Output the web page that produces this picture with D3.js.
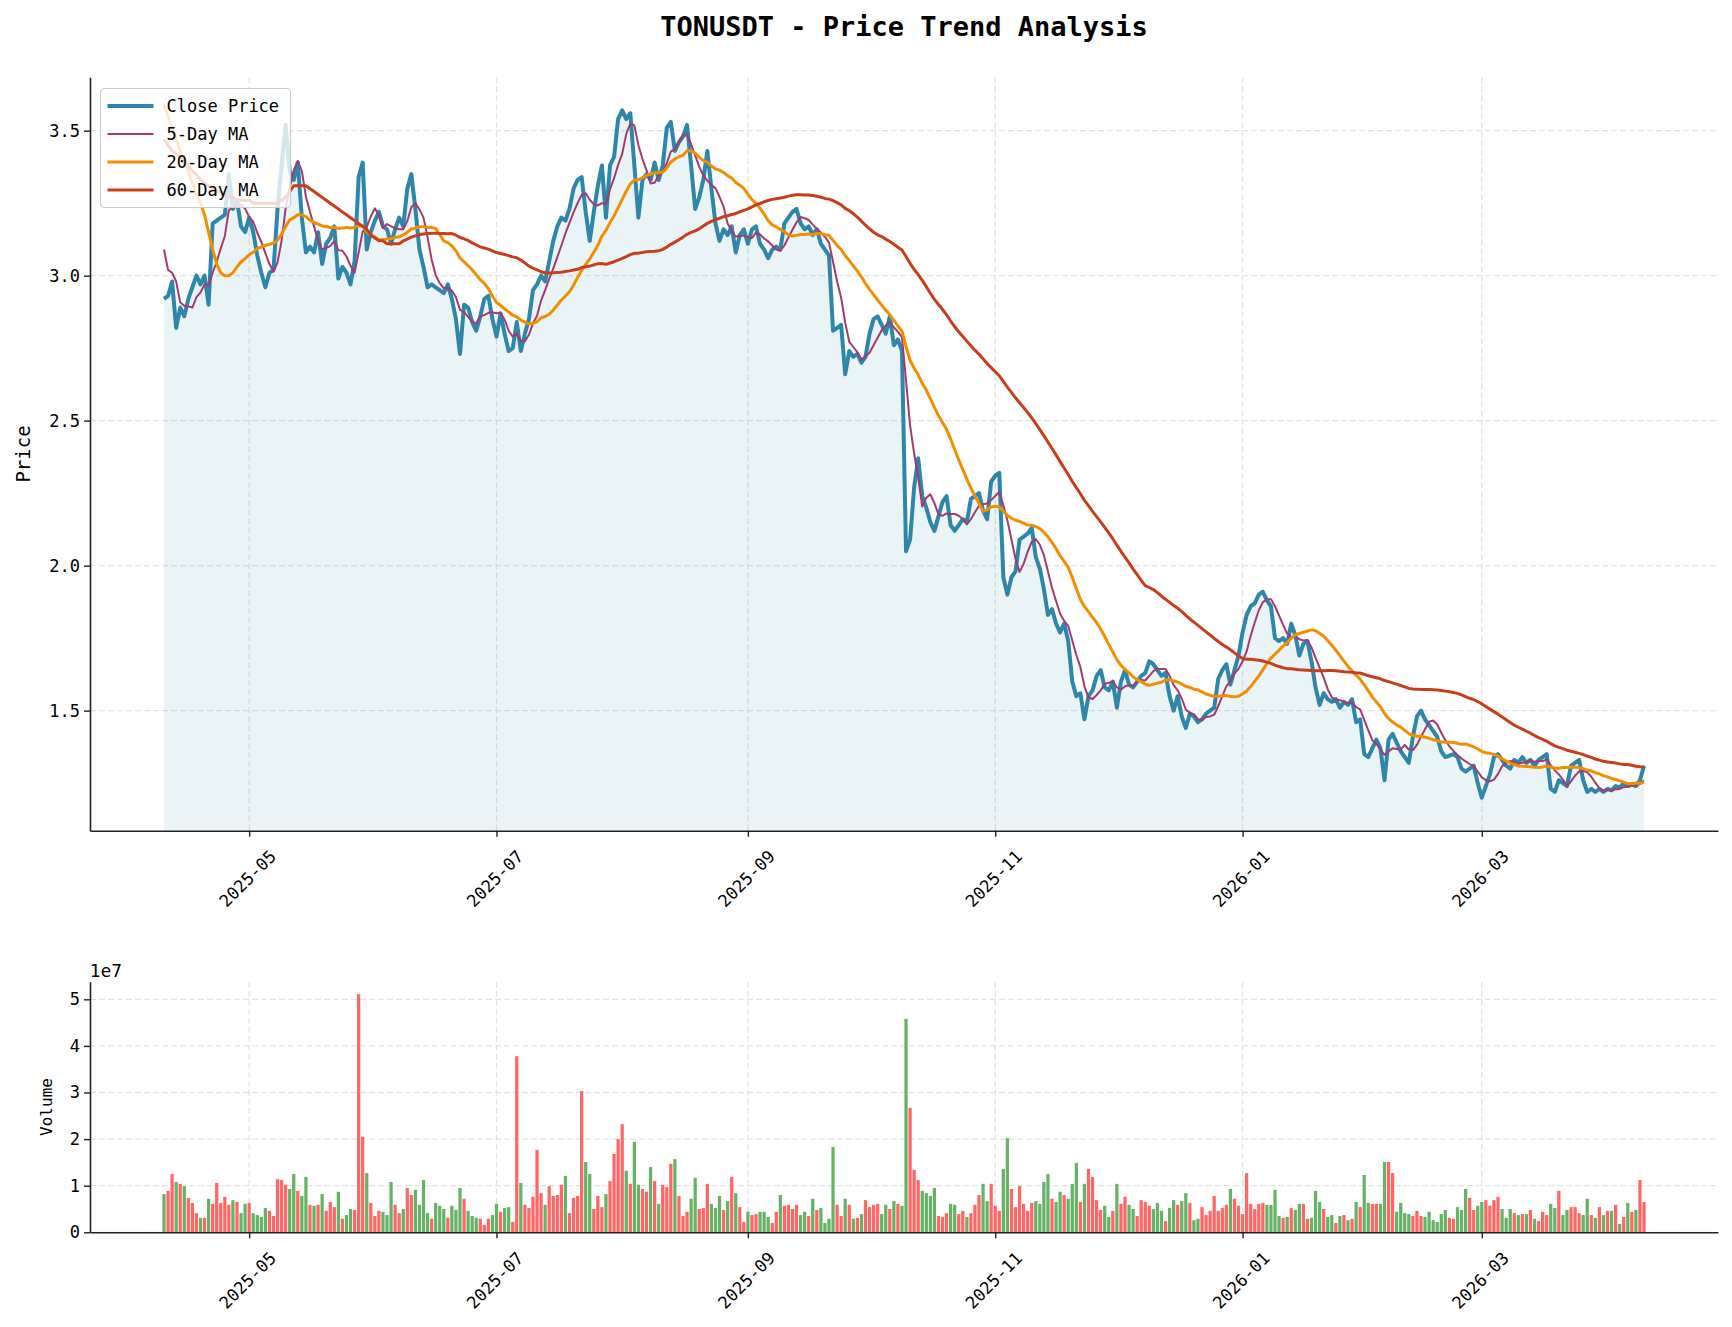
<!DOCTYPE html>
<html>
<head>
<meta charset="utf-8">
<script src="https://cdn.jsdelivr.net/npm/d3@7"></script>
<style>
  body { margin: 0; background: #fff; }
  svg { display: block; }
  text { font-family: "DejaVu Sans Mono", "Liberation Mono", monospace; fill: #000; }
</style>
</head>
<body>
<svg id="chart" width="1732" height="1327"></svg>
<script>
// daily candles, TONUSDT
const startDate = "2025-04-10";

const closes = [
  2.92, 2.93, 2.98, 2.82, 2.89, 2.86, 2.92, 2.96, 3.00, 2.97,
  3.00, 2.90, 3.18, 3.19, 3.20, 3.21, 3.35, 3.23, 3.26, 3.17,
  3.15, 3.20, 3.15, 3.07, 3.01, 2.96, 3.01, 3.02, 3.23, 3.38,
  3.52, 3.36, 3.33, 3.39, 3.20, 3.08, 3.10, 3.08, 3.15, 3.04,
  3.11, 3.13, 3.17, 2.99, 3.03, 3.01, 2.97, 3.05, 3.34, 3.39,
  3.09, 3.15, 3.19, 3.22, 3.17, 3.16, 3.11, 3.16, 3.20, 3.17,
  3.30, 3.35, 3.23, 3.09, 3.03, 2.96, 2.97, 2.96, 2.95, 2.94,
  2.97, 2.92, 2.85, 2.73, 2.90, 2.89, 2.84, 2.81, 2.86, 2.92,
  2.93, 2.85, 2.79, 2.87, 2.80, 2.74, 2.75, 2.84, 2.74, 2.80,
  2.85, 2.95, 2.97, 3.00, 2.98, 3.05, 3.12, 3.17, 3.20, 3.19,
  3.23, 3.30, 3.33, 3.34, 3.22, 3.12, 3.22, 3.31, 3.38, 3.20,
  3.38, 3.41, 3.54, 3.57, 3.54, 3.56, 3.38, 3.20, 3.33, 3.35,
  3.33, 3.39, 3.33, 3.38, 3.51, 3.53, 3.43, 3.46, 3.48, 3.52,
  3.38, 3.23, 3.27, 3.33, 3.43, 3.30, 3.18, 3.12, 3.16, 3.14,
  3.17, 3.08, 3.14, 3.16, 3.11, 3.16, 3.17, 3.11, 3.09, 3.06,
  3.09, 3.10, 3.09, 3.18, 3.20, 3.22, 3.23, 3.18, 3.16, 3.17,
  3.14, 3.16, 3.11, 3.09, 3.07, 2.81, 2.82, 2.83, 2.66, 2.74,
  2.72, 2.73, 2.70, 2.72, 2.80, 2.85, 2.86, 2.83, 2.80, 2.86,
  2.76, 2.78, 2.74, 2.05, 2.09, 2.27, 2.37, 2.24, 2.20, 2.15,
  2.12, 2.17, 2.22, 2.24, 2.14, 2.12, 2.14, 2.16, 2.15, 2.23,
  2.24, 2.25, 2.19, 2.16, 2.29, 2.31, 2.32, 1.96, 1.90, 1.96,
  1.98, 2.09, 2.10, 2.11, 2.13, 2.03, 1.99, 1.92, 1.83, 1.85,
  1.80, 1.77, 1.80, 1.74, 1.60, 1.55, 1.56, 1.47, 1.55, 1.57,
  1.62, 1.64, 1.58, 1.57, 1.60, 1.51, 1.60, 1.64, 1.59, 1.58,
  1.60, 1.62, 1.63, 1.67, 1.66, 1.64, 1.62, 1.63, 1.55, 1.50,
  1.55, 1.48, 1.44, 1.49, 1.48, 1.46, 1.47, 1.49, 1.50, 1.51,
  1.61, 1.64, 1.66, 1.59, 1.64, 1.69, 1.77, 1.83, 1.86, 1.87,
  1.90, 1.91, 1.88, 1.86, 1.75, 1.74, 1.75, 1.73, 1.80, 1.76,
  1.69, 1.73, 1.74, 1.67, 1.58, 1.52, 1.56, 1.54, 1.53, 1.54,
  1.51, 1.53, 1.52, 1.54, 1.46, 1.47, 1.35, 1.34, 1.37, 1.40,
  1.37, 1.26, 1.40, 1.42, 1.39, 1.36, 1.34, 1.32, 1.41, 1.48,
  1.50, 1.47, 1.45, 1.43, 1.41, 1.36, 1.34, 1.345, 1.35, 1.34,
  1.30, 1.29, 1.30, 1.31, 1.25, 1.20, 1.24, 1.28, 1.34, 1.35,
  1.33, 1.31, 1.30, 1.33, 1.32, 1.34, 1.32, 1.33, 1.31, 1.33,
  1.34, 1.35, 1.23, 1.22, 1.26, 1.25, 1.24, 1.31, 1.32, 1.33,
  1.26, 1.22, 1.23, 1.22, 1.23, 1.22, 1.23, 1.225, 1.24, 1.235,
  1.25, 1.24, 1.245, 1.24, 1.26, 1.31
];

// volume in millions
const volumes = [
  8.2, 8.9, 12.5, 10.8, 10.4, 9.9, 7.4, 6.3, 4.1, 3.1,
  3.1, 7.2, 6.1, 10.6, 6.3, 7.6, 5.9, 6.9, 6.5, 4.1,
  6.1, 6.3, 4.1, 3.7, 3.3, 5.2, 4.6, 3.5, 11.4, 11.2,
  10.2, 9.3, 12.5, 8.9, 7.8, 11.9, 5.9, 5.7, 5.9, 8.2,
  4.6, 6.5, 5.4, 8.7, 2.9, 3.7, 5.0, 4.8, 51.1, 20.5,
  12.7, 6.3, 3.5, 4.6, 4.4, 3.7, 10.8, 5.9, 4.1, 5.0,
  9.5, 8.0, 9.1, 5.9, 11.2, 4.1, 2.9, 6.3, 5.7, 5.0,
  3.1, 5.7, 4.8, 9.5, 7.2, 4.6, 3.5, 3.1, 2.9, 1.6,
  2.9, 3.7, 6.1, 4.4, 5.2, 5.4, 2.2, 37.8, 10.6, 5.9,
  5.2, 7.6, 17.7, 8.4, 5.9, 9.9, 7.8, 8.0, 10.2, 12.1,
  4.1, 7.4, 7.8, 30.3, 15.1, 12.5, 5.0, 7.8, 5.4, 8.2,
  11.0, 16.8, 20.0, 23.2, 13.2, 10.4, 19.4, 10.2, 9.3, 8.7,
  14.0, 11.0, 6.1, 10.2, 9.7, 14.7, 15.7, 7.8, 3.5, 4.4,
  7.2, 11.7, 5.0, 5.2, 10.4, 6.1, 5.2, 7.8, 4.8, 6.7,
  11.9, 8.4, 5.4, 2.2, 4.4, 3.7, 3.9, 4.4, 4.4, 3.3,
  2.0, 4.4, 8.0, 5.7, 5.9, 5.0, 5.9, 3.7, 4.4, 3.5,
  7.2, 4.8, 5.2, 2.0, 2.9, 18.3, 5.9, 3.5, 7.2, 5.9,
  2.9, 3.1, 3.9, 6.9, 5.4, 5.9, 6.1, 3.9, 5.9, 5.0,
  6.7, 6.1, 5.7, 45.8, 26.7, 13.4, 11.2, 8.9, 8.4, 7.8,
  9.5, 3.5, 3.3, 4.1, 6.1, 5.9, 3.9, 4.6, 3.3, 4.1,
  5.9, 8.0, 10.4, 6.7, 10.4, 5.7, 4.6, 13.6, 20.2, 9.3,
  5.4, 9.9, 6.1, 4.6, 6.3, 6.7, 6.1, 10.8, 12.5, 7.2,
  6.5, 8.7, 8.0, 7.2, 10.4, 14.9, 6.5, 10.4, 13.6, 11.9,
  6.9, 4.8, 5.7, 3.3, 4.6, 10.4, 6.1, 7.6, 5.9, 5.0,
  3.5, 6.9, 6.5, 5.7, 5.0, 6.3, 4.6, 2.4, 5.2, 6.9,
  5.9, 6.7, 8.4, 6.3, 2.6, 2.9, 5.4, 3.7, 4.6, 7.8,
  4.6, 5.2, 5.9, 9.3, 7.2, 5.7, 3.9, 12.7, 6.1, 5.0,
  6.1, 6.3, 5.9, 5.9, 9.1, 3.5, 3.1, 3.3, 5.2, 4.8,
  6.1, 6.1, 2.9, 3.1, 8.9, 6.5, 5.0, 3.3, 3.7, 2.0,
  3.5, 3.7, 2.6, 2.9, 6.5, 5.4, 12.3, 6.3, 6.1, 6.1,
  6.1, 15.1, 15.1, 12.7, 4.4, 6.3, 4.1, 3.9, 3.5, 4.6,
  3.5, 3.3, 4.4, 2.6, 2.2, 3.9, 4.8, 3.1, 2.9, 5.4,
  4.8, 9.3, 7.4, 4.8, 5.7, 6.5, 6.9, 5.7, 6.9, 7.6,
  5.0, 3.1, 5.0, 4.1, 3.7, 3.9, 3.9, 4.8, 2.9, 2.4,
  4.4, 3.7, 6.1, 5.2, 8.9, 3.7, 4.8, 5.4, 5.4, 4.1,
  3.7, 7.2, 3.7, 3.1, 5.4, 3.7, 4.6, 4.6, 5.9, 1.8,
  3.3, 6.3, 4.4, 4.8, 11.2, 6.5
];

// r = up day (red bar), g = down day (green bar)
const barSide = (
  "grrgrgrrrg rgrrrrrgrg grggggrrrr rggrggrgrg rrrgrggrrr " +
  "grrrgggrrg rrggggrggg rgggrgggrr rggrggrrgr rrrrgrrrrg " +
  "rrrrggrrrg rrrrgrggrr grgrrrgrrr ggrrrgggrg rgrrgrrggg " +
  "rrgrrrrggr grggggrrgr grgrrrrggr grggrrrggg grrrggrrgr " +
  "rrggrrrggr rrrrrggggr ggrgggrgrr rrggrgrrgg rrrrgggrgg " +
  "rggrggrrrr rrrgrrrrrr rrggggrgrg grrgggrggr grgrgrggrr " +
  "ggrrggggrr rggggggrrg ggrrggrrrr gggrgrgrgr rrggrggrrr " +
  "ggrgrgrgrg rgrgrr"
).replace(/ /g, "").split("");

// averages before enough history is on the chart
const ma5Head = [3.09, 3.02, 3.01, 2.98];
const ma20Head = [3.59, 3.55, 3.51, 3.47, 3.43, 3.40, 3.36, 3.32, 3.28, 3.25,
                  3.21, 3.15, 3.09, 3.04, 3.01, 3.00, 3.00, 3.01, 3.03];
const ma60Head = [3.47, 3.45, 3.43, 3.42, 3.41, 3.39, 3.38, 3.36, 3.35, 3.33,
                  3.32, 3.31, 3.30, 3.29, 3.29, 3.28, 3.27, 3.27, 3.26, 3.26,
                  3.26, 3.26, 3.25, 3.25, 3.25, 3.25, 3.25, 3.25, 3.25, 3.26,
                  3.27, 3.29, 3.31, 3.31, 3.31, 3.31, 3.30, 3.29, 3.28, 3.27,
                  3.26, 3.25, 3.24, 3.23, 3.22, 3.21, 3.20, 3.19, 3.18, 3.17,
                  3.16, 3.14, 3.13, 3.12, 3.12, 3.11, 3.11, 3.11, 3.11];

const monthTicks = ["2025-05", "2025-07", "2025-09", "2025-11", "2026-01", "2026-03"];
const priceTicks = [1.5, 2.0, 2.5, 3.0, 3.5];
const volumeTicks = [0, 1, 2, 3, 4, 5]; // x 1e7

const series = [
  { label: "Close Price", color: "#2E86AB", width: 4 },
  { label: "5-Day MA", color: "#A23B72", width: 2 },
  { label: "20-Day MA", color: "#F18F01", width: 3 },
  { label: "60-Day MA", color: "#C73E1D", width: 3 }
];

function movingAvg(vals, n, head) {
  return vals.map((v, i) => (i < n - 1 ? head[i] : d3.mean(vals.slice(i - n + 1, i + 1))));
}

const svg = d3.select("#chart");
const left = 90, right = 1718;
const price = { top: 77.3, bottom: 830.7 };
const vol = { top: 981.7, bottom: 1232.3 };

const parseDay = d3.utcParse("%Y-%m-%d");
const parseMonth = d3.utcParse("%Y-%m");
const t0 = parseDay(startDate);
const rows = closes.map((c, i) => ({
  date: d3.utcDay.offset(t0, i),
  close: c,
  volume: volumes[i] * 1e6,
  up: barSide[i] === "r"
}));
const ma5 = movingAvg(closes, 5, ma5Head);
const ma20 = movingAvg(closes, 20, ma20Head);
const ma60 = movingAvg(closes, 60, ma60Head);
rows.forEach((r, i) => { r.ma5 = ma5[i]; r.ma20 = ma20[i]; r.ma60 = ma60[i]; });

// 5% margin each side like matplotlib
const pad = (right - left) * 0.05 / 1.1;
const xData = d3.scaleUtc().domain(d3.extent(rows, d => d.date)).range([left + pad, right - pad]);
const x = xData.copy().domain([xData.invert(left), xData.invert(right)]).range([left, right]);
const y = d3.scaleLinear().domain([1.086, 3.684]).range([price.bottom, price.top]);
const yv = d3.scaleLinear().domain([0, 5.378e7]).range([vol.bottom, vol.top]);
const tickDates = monthTicks.map(parseMonth);

// title
svg.append("text")
  .attr("x", (left + right) / 2)
  .attr("y", 36)
  .attr("text-anchor", "middle")
  .attr("font-size", 27)
  .attr("font-weight", "bold")
  .text("TONUSDT - Price Trend Analysis");

function drawGrid(top, bottom, yScale, yTicks) {
  const g = svg.append("g")
    .attr("stroke", "#e3e3e3")
    .attr("stroke-width", 1.3)
    .attr("stroke-dasharray", "6,3");
  g.selectAll(".v").data(tickDates).enter().append("line")
    .attr("x1", d => x(d)).attr("x2", d => x(d))
    .attr("y1", top).attr("y2", bottom);
  g.selectAll(".h").data(yTicks).enter().append("line")
    .attr("x1", left).attr("x2", right)
    .attr("y1", d => yScale(d)).attr("y2", d => yScale(d));
}

drawGrid(price.top, price.bottom, y, priceTicks);
drawGrid(vol.top, vol.bottom, yv, volumeTicks.map(v => v * 1e7));

// price panel
svg.append("path")
  .datum(rows)
  .attr("fill", "#2E86AB")
  .attr("fill-opacity", 0.1)
  .attr("d", d3.area().x(d => x(d.date)).y0(price.bottom).y1(d => y(d.close)));

const keys = ["close", "ma5", "ma20", "ma60"];
keys.forEach((k, i) => {
  svg.append("path")
    .datum(rows)
    .attr("fill", "none")
    .attr("stroke", series[i].color)
    .attr("stroke-width", series[i].width)
    .attr("stroke-linejoin", "round")
    .attr("d", d3.line().x(d => x(d.date)).y(d => y(d[k])));
});

// volume panel
const step = x(rows[1].date) - x(rows[0].date);
svg.append("g")
  .selectAll("rect")
  .data(rows)
  .enter()
  .append("rect")
  .attr("x", d => x(d.date) - step * 0.4)
  .attr("width", step * 0.8)
  .attr("y", d => yv(d.volume))
  .attr("height", d => vol.bottom - yv(d.volume))
  .attr("fill", d => (d.up ? "#ff6666" : "#66b366"));

function styleAxis(g) {
  g.select(".domain").attr("stroke", "#222").attr("stroke-width", 1.6);
  g.selectAll(".tick line").attr("stroke", "#222").attr("stroke-width", 1.4);
  g.selectAll(".tick text").attr("font-size", 17).attr("fill", "#000")
    .style("font-family", '"DejaVu Sans Mono", monospace');
}

function dateAxis(bottom) {
  const g = svg.append("g")
    .attr("transform", `translate(0,${bottom})`)
    .call(d3.axisBottom(x).tickValues(tickDates).tickFormat(d3.utcFormat("%Y-%m")).tickSize(6).tickSizeOuter(0));
  styleAxis(g);
  g.selectAll(".tick text")
    .attr("y", null)
    .attr("dy", null)
    .attr("text-anchor", "middle")
    .attr("dominant-baseline", "central")
    .attr("transform", "translate(-2,48) rotate(-45)");
}

const gy = svg.append("g")
  .attr("transform", `translate(${left},0)`)
  .call(d3.axisLeft(y).tickValues(priceTicks).tickFormat(d3.format(".1f")).tickSize(6).tickSizeOuter(0));
styleAxis(gy);
gy.selectAll(".tick text").attr("x", -10);
dateAxis(price.bottom);

const gv = svg.append("g")
  .attr("transform", `translate(${left},0)`)
  .call(d3.axisLeft(yv).tickValues(volumeTicks.map(v => v * 1e7)).tickFormat(d => d / 1e7).tickSize(6).tickSizeOuter(0));
styleAxis(gv);
gv.selectAll(".tick text").attr("x", -10);
dateAxis(vol.bottom);

svg.append("text")
  .attr("x", 90).attr("y", 977)
  .attr("font-size", 17)
  .style("font-family", '"DejaVu Sans", sans-serif')
  .text("1e7");

svg.append("text")
  .attr("transform", `translate(30,${(price.top + price.bottom) / 2}) rotate(-90)`)
  .attr("text-anchor", "middle")
  .attr("font-size", 19)
  .text("Price");

svg.append("text")
  .attr("transform", `translate(52,${(vol.top + vol.bottom) / 2}) rotate(-90)`)
  .attr("text-anchor", "middle")
  .attr("font-size", 16)
  .text("Volume");

// legend
const legend = svg.append("g").attr("transform", "translate(100.5,88.5)");
legend.append("rect")
  .attr("width", 190).attr("height", 119).attr("rx", 4)
  .attr("fill", "#fff").attr("fill-opacity", 0.8)
  .attr("stroke", "#cccccc").attr("stroke-width", 1.2);
const item = legend.selectAll(".item")
  .data(series)
  .enter()
  .append("g")
  .attr("transform", (d, i) => `translate(0,${17.5 + i * 28})`);
item.append("line")
  .attr("x1", 7).attr("x2", 53)
  .attr("stroke", d => d.color)
  .attr("stroke-width", d => d.width);
item.append("text")
  .attr("x", 66)
  .attr("dominant-baseline", "central")
  .attr("font-size", 17)
  .text(d => d.label);
</script>
</body>
</html>
